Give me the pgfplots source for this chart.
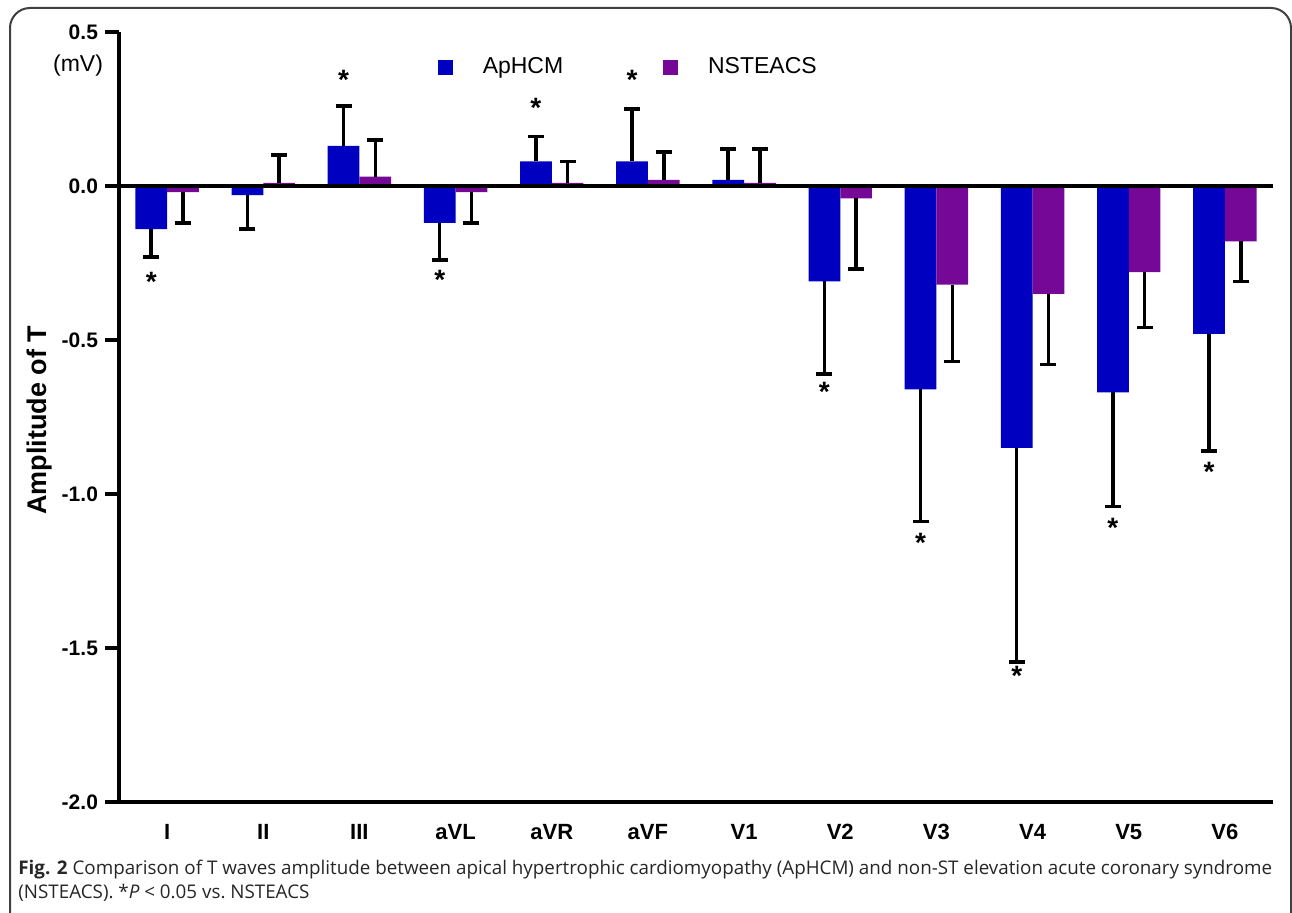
\documentclass[border=0pt]{standalone}
\usepackage{fontspec}
\setmainfont{Liberation Sans}
\newfontfamily\capfont{Open Sans}
\usepackage{pgfplots}
\pgfplotsset{compat=1.18}
\definecolor{blueC}{RGB}{0,0,192}
\definecolor{purpC}{RGB}{117,8,150}
\pgfplotsset{
  mybar/.style={ybar, bar width=0.33, bar shift=0, draw=none, forget plot},
  myerr/.style={error bars/.cd, y explicit,
    error bar style={line width=1.75pt, black},
    error mark options={rotate=90, line width=1.75pt, black, mark size=4pt}},
}
\begin{document}
\begin{tikzpicture}
\useasboundingbox (0pt,0pt) rectangle (646pt,456.5pt);
\draw[line width=1pt, black!75, rounded corners=10pt] (5pt,452.5pt) rectangle (645.5pt,-10pt);
\begin{axis}[
  at={(59.5pt,55.5pt)}, anchor=south west,
  scale only axis, width=577pt, height=385pt,
  xmin=-0.5, xmax=11.5, ymin=-2, ymax=0.5,
  axis x line*=bottom, axis y line*=left,
  axis line style={line width=2pt, -},
  xtick={0,...,11},
  xticklabels={I,II,III,aVL,aVR,aVF,V1,V2,V3,V4,V5,V6},
  xtick style={draw=none},
  xticklabel style={font=\bfseries\fontsize{11}{11}\selectfont, anchor=center, yshift=-8pt},
  ytick={-2,-1.5,-1,-0.5,0,0.5},
  yticklabels={-2.0,-1.5,-1.0,-0.5,0.0,0.5},
  yticklabel style={font=\bfseries\fontsize{10.5}{10.5}\selectfont},
  ytick style={line width=2pt, black},
  major tick length=7pt, tick align=outside,
  ylabel={Amplitude of T},
  every axis y label/.style={at={(axis description cs:-0.0685,0.496)}, rotate=90, anchor=center, font=\bfseries\fontsize{13.5}{13.5}\selectfont},
  legend style={draw=none, fill=none, at={(axis description cs:0.2764,0.9545)}, anchor=west,
    inner sep=0pt, outer sep=0pt, font=\fontsize{11.5}{11.5}\selectfont, nodes={inner sep=0pt},
    /tikz/every odd column/.append style={column sep=15pt},
    /tikz/every even column/.append style={column sep=50pt}},
  legend columns=2,
  clip=false,
]
% ApHCM (bars centred at lead - 0.165), values above zero
\addplot[mybar, fill=blueC, myerr, y dir=plus]
  coordinates {(1.835,0.13) +- (0,0.13) (3.835,0.08) +- (0,0.08) (4.835,0.08) +- (0,0.17) (5.835,0.02) +- (0,0.10)};
% ApHCM, values below zero
\addplot[mybar, fill=blueC, myerr, y dir=minus]
  coordinates {(-0.165,-0.14) +- (0,0.09) (0.835,-0.03) +- (0,0.11) (2.835,-0.12) +- (0,0.12)
    (6.835,-0.31) +- (0,0.30) (7.835,-0.66) +- (0,0.43) (8.835,-0.85) +- (0,0.695)
    (9.835,-0.67) +- (0,0.37) (10.835,-0.48) +- (0,0.38)};
% NSTEACS (bars centred at lead + 0.165), values above zero
\addplot[mybar, fill=purpC, myerr, y dir=plus]
  coordinates {(1.165,0.01) +- (0,0.09) (2.165,0.03) +- (0,0.12) (4.165,0.01) +- (0,0.07) (5.165,0.02) +- (0,0.09) (6.165,0.01) +- (0,0.11)};
% NSTEACS, values below zero
\addplot[mybar, fill=purpC, myerr, y dir=minus]
  coordinates {(0.165,-0.02) +- (0,0.10) (3.165,-0.02) +- (0,0.10) (7.165,-0.04) +- (0,0.23)
    (8.165,-0.32) +- (0,0.25) (9.165,-0.35) +- (0,0.23) (10.165,-0.28) +- (0,0.18) (11.165,-0.18) +- (0,0.13)};
\draw[line width=2pt] (axis cs:-0.5,0) -- (axis cs:11.5,0);
% significance stars
\addplot[only marks, black, forget plot, mark=text, text mark={*}, text mark as node=true,
  text mark style={font=\bfseries\fontsize{14}{14}\selectfont, yshift=-1.5pt}]
  coordinates {(-0.165,-0.30) (1.835,0.354) (2.835,-0.295) (3.835,0.263) (4.835,0.354)
    (6.835,-0.66) (7.835,-1.15) (8.835,-1.58) (9.835,-1.10) (10.835,-0.92)};
\addlegendimage{legend image code/.code={\fill[blueC] (0pt,-3.5pt) rectangle (7pt,3.5pt);}}
\addlegendentry{ApHCM}
\addlegendimage{legend image code/.code={\fill[purpC] (0pt,-3.5pt) rectangle (7pt,3.5pt);}}
\addlegendentry{NSTEACS}
\end{axis}
\node[font=\fontsize{11.5}{11.5}\selectfont] at (39pt,423.5pt) {(mV)};
\node[anchor=base west, inner sep=0pt, font=\capfont\fontsize{9.4}{11}\selectfont, text=black!85] at (9pt,19pt)
  {\textbf{Fig. 2} Comparison of T waves amplitude between apical hypertrophic cardiomyopathy (ApHCM) and non-ST elevation acute coronary syndrome};
\node[anchor=base west, inner sep=0pt, font=\capfont\fontsize{9.4}{11}\selectfont, text=black!85] at (9pt,7pt)
  {(NSTEACS). *\textit{P} < 0.05 vs.\ NSTEACS};
\end{tikzpicture}
\end{document}
